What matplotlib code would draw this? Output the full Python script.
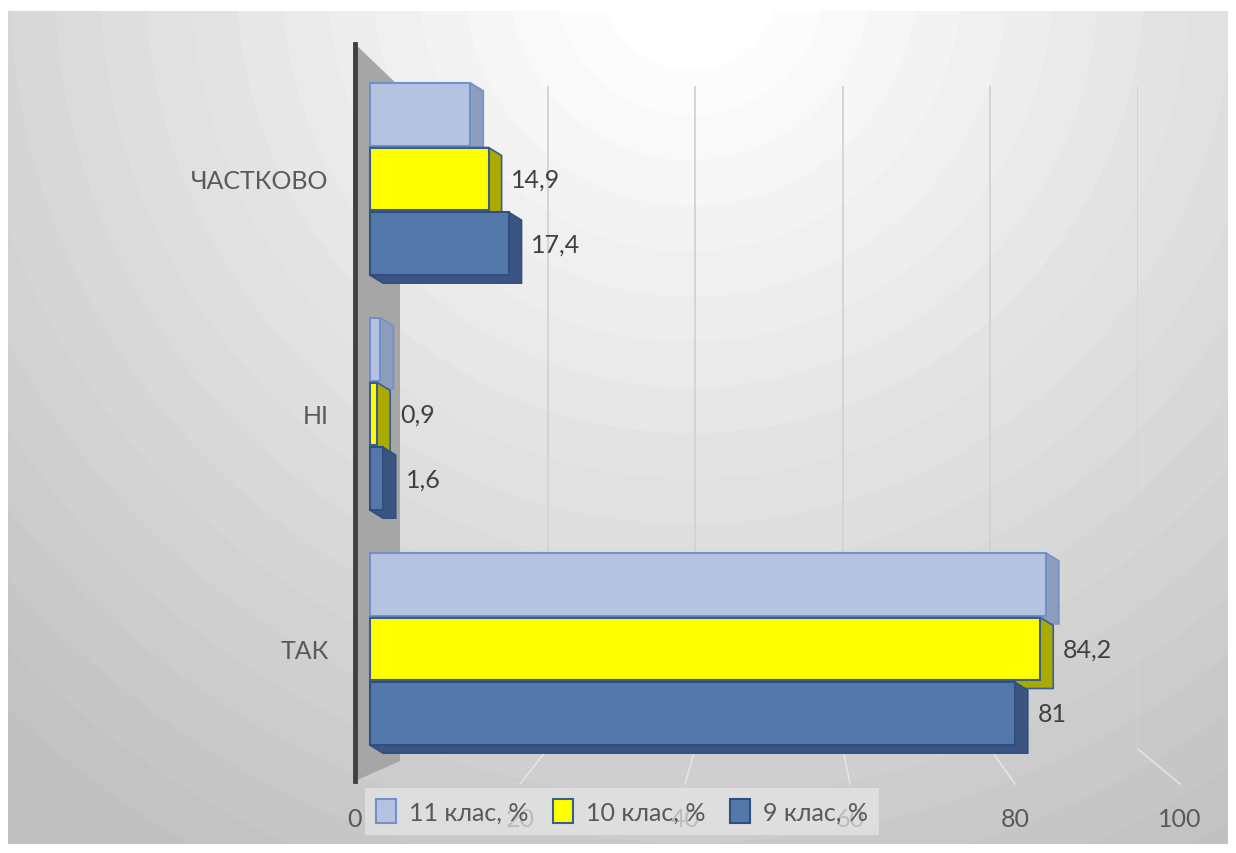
import numpy as np
import matplotlib
matplotlib.use('Agg')
import matplotlib.pyplot as plt
from matplotlib.patches import Polygon, Patch

plt.rcParams['font.family'] = ['Lato', 'Open Sans', 'DejaVu Sans']

# дані
categories = ['ТАК', 'НІ', 'ЧАСТКОВО']
series_names = ['11 клас, %', '10 клас, %', '9 клас, %']
values_11 = [84.9, 1.3, 12.6]
values_10 = [84.2, 0.9, 14.9]
values_9 = [81, 1.6, 17.4]
labels_10 = ['84,2', '0,9', '14,9']
labels_9 = ['81', '1,6', '17,4']
x_ticks = [0, 20, 40, 60, 80, 100]

W, H = 1236, 854
fig = plt.figure(figsize=(W / 100, H / 100), dpi=100)
fig.patch.set_facecolor('white')


def fx(px):
    return px / W


def fy(py):
    return 1 - py / H


# фон з радіальним градієнтом
bg = fig.add_axes([fx(8), fy(845), fx(1228) - fx(8), fy(12) - fy(845)])
xx, yy = np.meshgrid(np.arange(8, 1228), np.arange(12, 845))
r = np.hypot(xx - 690, yy + 20)
g = np.clip(255 - 0.066 * np.maximum(r - 90, 0), 192, 255)
g = np.floor(g / 3) * 3 / 255
bg.imshow(g, cmap='gray', vmin=0, vmax=1, aspect='auto', interpolation='bilinear')
bg.axis('off')

# декор: бічна стінка і перспективні лінії
deco = fig.add_axes([0, 0, 1, 1])
deco.set_xlim(0, W)
deco.set_ylim(H, 0)
deco.axis('off')
deco.add_patch(Polygon([(355, 45), (400, 88), (400, 762), (355, 782)],
                       closed=True, facecolor='#a6a6a6', edgecolor='none'))

# сітка (задня стінка)
axg = fig.add_axes([fx(400), fy(750), fx(1138) - fx(400), fy(87) - fy(750)])
axg.set_xlim(0, 100)
axg.set_xticks(x_ticks[1:])
axg.set_yticks([])
axg.grid(axis='x', color='#d2d2d2', lw=1.3)
axg.tick_params(length=0, labelbottom=False)
axg.patch.set_alpha(0)
for s in axg.spines.values():
    s.set_visible(False)

# підписи осі X
axl = fig.add_axes([fx(355), fy(782), fx(1180) - fx(355), 0.001])
axl.set_xlim(0, 100)
axl.set_xticks(x_ticks)
axl.set_xticklabels([str(t) for t in x_ticks])
axl.set_yticks([])
axl.tick_params(length=0, labelsize=18, colors='#595959', pad=19)
axl.patch.set_alpha(0)
for s in axl.spines.values():
    s.set_visible(False)

# перспективні лінії від сітки до підписів
for t in x_ticks[1:]:
    p_top = axg.transData.transform((t, 0))
    p_bot = axl.transData.transform((t, 0))
    deco.plot([p_top[0], p_bot[0]], [H - p_top[1], H - p_bot[1] + 3],
              color='#e4e4e4', lw=1.2)

# основна вісь
ax = fig.add_axes([fx(355), fy(782), fx(1190) - fx(355), fy(45) - fy(782)])
ppu = 7.96
xmin = -15 / ppu
ax.set_xlim(xmin, xmin + (1190 - 355) / ppu)
ax.set_ylim(-(782 - 650) / 235, (650 - 45) / 235)
ax.patch.set_visible(False)

h = 0.268
dx = 13 / ppu
dy = -8 / 235

series = [
    (values_11, 0.275, '#b4c4e0', '#7291cc', '#8e9dbb', None),
    (values_10, 0.0, '#ffff00', '#3b5e8f', '#aaaa00', labels_10),
    (values_9, -0.275, '#5578aa', '#2f4f80', '#3b5480', labels_9),
]

for vals, off, front, edge, side, labs in series:
    y = np.arange(len(categories)) + off
    for yc, v in zip(y, vals):
        yb, yt = yc - h / 2, yc + h / 2
        ax.add_patch(Polygon([(0, yt), (0, yb), (dx, yb + dy), (v + dx, yb + dy),
                              (v + dx, yt + dy), (v, yt)], closed=True,
                             facecolor=side, edgecolor=edge, lw=1.2))
    ax.barh(y, vals, height=h, color=front, edgecolor=edge, lw=1.5)
    if labs:
        for yc, v, lb in zip(y, vals, labs):
            ax.annotate(lb, (v + dx, yc), xytext=(7, 0), textcoords='offset points',
                        ha='left', va='center', fontsize=18, color='#404040')

ax.set_yticks(range(len(categories)))
ax.set_yticklabels(categories)
ax.tick_params(axis='y', length=0, labelsize=18, colors='#595959', pad=19)
ax.set_xticks([])
for k in ['top', 'right', 'bottom']:
    ax.spines[k].set_visible(False)
ax.spines['left'].set_color('#404040')
ax.spines['left'].set_linewidth(3.5)

handles = [Patch(facecolor=c[2], edgecolor=c[3], lw=1.5) for c in series]
leg = ax.legend(handles, series_names, loc='center', ncol=3,
                bbox_to_anchor=(fx(622), fy(812)), bbox_transform=fig.transFigure,
                fontsize=18, labelcolor='#595959', handlelength=0.8, handleheight=1.1,
                handletextpad=0.5, columnspacing=1.0, borderpad=0.45,
                borderaxespad=0, frameon=True, fancybox=False, framealpha=0.7)
leg.get_frame().set_facecolor('#e6e6e6')
leg.get_frame().set_edgecolor('none')

fig.savefig('out.png', dpi=100)
